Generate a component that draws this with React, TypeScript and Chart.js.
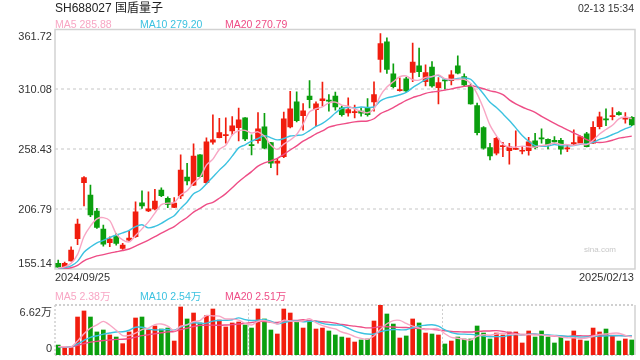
import React, { useEffect, useRef, useState } from "react";
import { Chart, registerables } from "chart.js";

Chart.register(...registerables);

// ---------- data ----------
const dates = [
  "2024/09/25", "2024/09/26", "2024/09/27", "2024/09/30",
  "2024/10/08", "2024/10/09", "2024/10/10", "2024/10/11", "2024/10/14", "2024/10/15", "2024/10/16", "2024/10/17", "2024/10/18",
  "2024/10/21", "2024/10/22", "2024/10/23", "2024/10/24", "2024/10/25", "2024/10/28", "2024/10/29", "2024/10/30", "2024/10/31",
  "2024/11/01", "2024/11/04", "2024/11/05", "2024/11/06", "2024/11/07", "2024/11/08", "2024/11/11", "2024/11/12", "2024/11/13",
  "2024/11/14", "2024/11/15", "2024/11/18", "2024/11/19", "2024/11/20", "2024/11/21", "2024/11/22", "2024/11/25", "2024/11/26",
  "2024/11/27", "2024/11/28", "2024/11/29",
  "2024/12/02", "2024/12/03", "2024/12/04", "2024/12/05", "2024/12/06", "2024/12/09", "2024/12/10", "2024/12/11", "2024/12/12",
  "2024/12/13", "2024/12/16", "2024/12/17", "2024/12/18", "2024/12/19", "2024/12/20", "2024/12/23", "2024/12/24", "2024/12/25",
  "2024/12/26", "2024/12/27", "2024/12/30", "2024/12/31",
  "2025/01/02", "2025/01/03", "2025/01/06", "2025/01/07", "2025/01/08", "2025/01/09", "2025/01/10", "2025/01/13", "2025/01/14",
  "2025/01/15", "2025/01/16", "2025/01/17", "2025/01/20", "2025/01/21", "2025/01/22", "2025/01/23", "2025/01/24", "2025/01/27",
  "2025/02/05", "2025/02/06", "2025/02/07", "2025/02/10", "2025/02/11", "2025/02/12", "2025/02/13",
];

const open = [
  159.97, 157.03, 162.21, 181.21, 229.58, 218.96, 205.14, 189.59, 177.76, 183.81,
  172.92, 180.09, 182.94, 212.31, 205.14, 206.87, 223.28, 216.11, 208.16, 218.09,
  234.51, 227.34, 253.51, 229.58, 264.48, 268.45, 270.18, 274.24, 277.09, 285.46,
  262.14, 265.86, 277.69, 264.13, 246.34, 252.04, 277.69, 299.28, 287.45, 304.21,
  292.63, 300.41, 300.41, 304.21, 294.1, 289.78, 290.04, 291.25, 294.1, 299.28,
  335.82, 351.1, 323.47, 309.04, 319.15, 324.76, 330.38, 316.82, 329.25, 311.63,
  318.28, 317.68, 330.38, 321.13, 313.36, 296.09, 277.09, 259.81, 254.97, 260.68,
  257.22, 258.26, 256.7, 257.22, 265.6, 267.93, 267.07, 266.2, 266.2, 258.69,
  263.01, 263.61, 271.64, 263.61, 277.95, 284.34, 286.59, 290.04, 284.34, 286.07,
];

const high = [
  162.82, 161.09, 174.31, 198.23, 234.76, 227.6, 207.47, 193.05, 182.94, 185.88,
  177.24, 187.87, 213.17, 222.67, 221.81, 223.88, 225.26, 217.49, 216.8, 253.51,
  246.34, 263.01, 253.8, 268.19, 288.05, 285.2, 285.46, 286.59, 293.84, 285.8,
  270.78, 290.04, 289.52, 264.4, 250.66, 290.39, 308.35, 307.92, 297.81, 317.68,
  299.28, 316.3, 305.59, 307.66, 295.57, 302.74, 296.43, 294.1, 302.13, 316.56,
  358.27, 354.56, 332.1, 320.01, 320.44, 349.98, 345.66, 331.24, 334.09, 320.27,
  318.89, 326.32, 339.01, 323.47, 314.83, 298.16, 277.95, 263.61, 268.79, 264.48,
  263.61, 274.24, 260.68, 268.79, 272.25, 275.96, 267.5, 269.31, 267.93, 262.75,
  275.1, 269.92, 273.11, 282.27, 290.39, 293.24, 294.36, 290.9, 290.04, 286.59,
];

const low = [
  156.51, 156.17, 161.8, 176.03, 209.46, 200.22, 190.2, 174.91, 174.31, 175.77,
  172.06, 179.23, 182.42, 207.47, 204.53, 206.0, 217.49, 207.99, 207.99, 215.76,
  227.6, 227.0, 234.25, 228.46, 262.75, 268.2, 263.61, 270.78, 265.6, 265.86,
  253.51, 263.61, 258.69, 242.54, 236.23, 251.17, 276.83, 282.01, 274.84, 294.1,
  278.29, 295.57, 291.25, 292.11, 286.93, 286.93, 285.46, 286.93, 286.93, 291.25,
  324.93, 323.73, 311.37, 308.52, 307.92, 316.82, 321.13, 313.1, 311.98, 297.56,
  310.25, 313.97, 323.47, 313.1, 297.3, 270.78, 258.43, 249.19, 253.51, 252.04,
  245.47, 258.08, 254.37, 253.25, 258.69, 263.61, 258.69, 263.61, 254.11, 256.36,
  261.54, 263.4, 260.4, 263.4, 275.96, 278.81, 283.74, 287.79, 280.89, 278.81,
];

const close = [
  156.77, 159.97, 171.45, 193.91, 233.9, 201.68, 191.06, 176.64, 180.96, 177.24,
  175.77, 181.82, 204.53, 209.46, 207.13, 213.78, 218.35, 210.93, 212.05, 240.55,
  231.05, 252.64, 234.76, 264.73, 266.46, 272.77, 271.04, 278.55, 283.74, 267.33,
  261.54, 275.96, 259.29, 246.34, 248.32, 284.6, 293.24, 283.13, 291.51, 301.27,
  297.56, 301.87, 299.89, 294.96, 288.31, 292.63, 290.65, 289.52, 288.31, 305.59,
  349.64, 327.18, 312.5, 309.91, 308.78, 333.57, 325.45, 324.59, 313.1, 315.95,
  317.42, 322.6, 324.07, 313.97, 297.56, 272.77, 259.29, 252.64, 267.93, 261.28,
  260.42, 258.95, 257.22, 264.73, 259.81, 267.33, 262.4, 264.73, 258.43, 259.29,
  264.13, 269.31, 260.68, 277.43, 286.33, 283.74, 287.45, 288.31, 285.2, 279.42,
];

// volume in 万 (10k shares)
const volume = [
  1.32, 0.97, 0.97, 5.03, 5.83, 5.03, 3.05, 3.31, 2.65, 2.38,
  1.5, 3.05, 4.9, 5.03, 3.31, 3.84, 3.44, 3.57, 1.85, 6.36,
  4.77, 5.56, 4.24, 5.21, 6.09, 4.63, 3.71, 4.24, 4.37, 3.97,
  3.57, 6.09, 4.77, 3.31, 2.78, 6.09, 5.56, 4.41, 3.57, 4.41,
  3.44, 3.57, 3.18, 2.65, 2.38, 2.25, 1.72, 1.99, 2.12, 4.5,
  6.62, 5.43, 4.1, 2.25, 2.52, 4.77, 4.24, 2.91, 2.78, 2.65,
  1.46, 1.85, 2.38, 2.12, 2.12, 3.84, 2.91, 2.12, 2.91, 2.65,
  3.05, 3.05, 1.59, 3.18, 2.38, 3.18, 2.38, 1.59, 2.38, 1.85,
  3.18, 1.99, 1.85, 3.57, 3.05, 3.44, 2.52, 1.85, 2.12, 1.99,
];

// sessions before the visible window (only used to seed the moving averages)
const priorCloses = [
  153.2, 154.0, 153.6, 154.8, 155.3, 154.1, 153.5, 154.6, 155.0, 154.2,
  155.8, 156.1, 154.9, 155.4, 156.0, 155.2, 156.3, 155.7, 156.5,
];
const priorVolumes = [
  1.05, 1.12, 0.98, 1.15, 1.08, 1.02, 1.2, 1.1, 0.95, 1.06,
  1.14, 1.01, 1.09, 1.17, 1.03, 0.99, 1.11, 1.07, 1.04,
];

const maPeriods = [5, 10, 20];
const priceTicks = [155.14, 206.79, 258.43, 310.08, 361.72];
const priceTickLabels = ["155.14", "206.79", "258.43", "310.08", "361.72"];
const volumeTicks = [0, 6.62];
const volumeTickLabels = ["0", "6.62万"];
const priceMaLabels = ["MA5 285.88", "MA10 279.20", "MA20 270.79"];
const volumeMaLabels = ["MA5 2.38万", "MA10 2.54万", "MA20 2.51万"];
const titleText = "SH688027 国盾量子";
const timeText = "02-13 15:34";
const watermark = "sina.com";

// ---------- styles ----------
const RED = "#f11d0e";
const GREEN = "#0b9f0e";
const MA_COLORS = ["#f8a6c4", "#3cc2e0", "#ee4d86"];
const FONT = '"Liberation Sans", Arial, "Noto Sans CJK SC", sans-serif';
const LEGEND_X = [55, 140, 225];

function movingAverage(prior: number[], values: number[], n: number) {
  const all = prior.concat(values);
  const off = prior.length;
  return values.map((_, i) => {
    const end = off + i + 1;
    const start = Math.max(0, end - n);
    let s = 0;
    for (let k = start; k < end; k++) s += all[k];
    return s / (end - start);
  });
}

function dotted(ctx: CanvasRenderingContext2D, x1: number, y1: number, x2: number, y2: number, color: string, w: number, dash: number[]) {
  ctx.save();
  ctx.strokeStyle = color;
  ctx.lineWidth = w;
  ctx.setLineDash(dash);
  ctx.beginPath();
  ctx.moveTo(x1, y1);
  ctx.lineTo(x2, y2);
  ctx.stroke();
  ctx.restore();
}

const mainFrame = {
  id: "mainFrame",
  beforeDatasetsDraw(chart: any) {
    const { ctx, chartArea: a, scales } = chart;
    for (let i = 1; i < priceTicks.length - 1; i++) {
      const y = Math.round(scales.y.getPixelForValue(priceTicks[i]));
      dotted(ctx, a.left, y, a.right, y, "#e2e2e2", 2, [3, 3]);
    }
    ctx.save();
    ctx.strokeStyle = "#d2d2d2";
    ctx.lineWidth = 1.5;
    ctx.strokeRect(a.left, a.top, a.right - a.left, a.bottom - a.top);
    ctx.restore();
  },
};

const volFrame = {
  id: "volFrame",
  beforeDatasetsDraw(chart: any) {
    const { ctx, chartArea: a } = chart;
    dotted(ctx, a.left, a.top, a.right, a.top, "#d0d0d0", 2, [2, 2]);
    dotted(ctx, a.left, a.bottom, a.right, a.bottom, "#d0d0d0", 2, [2, 2]);
    const w = a.right - a.left;
    for (const f of [1 / 3, 2 / 3]) {
      const x = Math.round(a.left + w * f) + 0.5;
      dotted(ctx, x, a.top, x, a.bottom, "#cfcfcf", 1, [2, 2]);
    }
    dotted(ctx, a.left, a.top, a.left, a.bottom, "#d0d0d0", 1.5, [2, 2]);
    dotted(ctx, a.right, a.top, a.right, a.bottom, "#d2d2d2", 1.5, []);
  },
};

type TxtProps = { x: number; y: number; text: string; size: number; color: string; align?: "left" | "right" };
function Txt({ x, y, text, size, color, align = "left" }: TxtProps) {
  return (
    <div
      style={{
        position: "absolute",
        left: x,
        top: y,
        transform: `translate(${align === "right" ? "-100%" : "0"}, -50%)`,
        fontSize: size,
        lineHeight: `${size + 2}px`,
        color,
        whiteSpace: "nowrap",
      }}
    >
      {text}
    </div>
  );
}

export default function App() {
  const mainRef = useRef<HTMLCanvasElement>(null);
  const volRef = useRef<HTMLCanvasElement>(null);
  const [pos, setPos] = useState<{ main: number[]; vol: number[] }>({ main: [], vol: [] });

  useEffect(() => {
    const colors = close.map((c, i) => (c >= open[i] ? RED : GREEN));
    const bodies = close.map((c, i) => [Math.min(open[i], c), Math.max(open[i], c)]);
    const wicks = close.map((_, i) => [low[i], high[i]]);
    const priceMa = maPeriods.map((n) => movingAverage(priorCloses, close, n));
    const volMa = maPeriods.map((n) => movingAverage(priorVolumes, volume, n));

    const lineDs = (data: number[], color: string) => ({
      type: "line" as const,
      data,
      borderColor: color,
      borderWidth: 1.4,
      pointRadius: 0,
      tension: 0.3,
      fill: false,
    });

    const main = new Chart(mainRef.current!, {
      type: "bar",
      data: {
        labels: dates,
        datasets: [
          ...priceMa.map((d, k) => lineDs(d, MA_COLORS[k])),
          {
            type: "bar",
            data: bodies as any,
            backgroundColor: colors,
            borderWidth: 0,
            barThickness: 5,
            grouped: false,
            minBarLength: 1,
          } as any,
          {
            type: "bar",
            data: wicks as any,
            backgroundColor: colors,
            borderWidth: 0,
            barThickness: 1,
            grouped: false,
          } as any,
        ],
      },
      options: {
        animation: false,
        responsive: false,
        maintainAspectRatio: false,
        layout: { padding: { left: 55, right: 5, top: 29.5, bottom: 91 } },
        plugins: { legend: { display: false }, tooltip: { enabled: false } },
        scales: {
          x: { display: false, offset: true },
          y: { display: false, min: priceTicks[0], max: priceTicks[priceTicks.length - 1] },
        },
      },
      plugins: [mainFrame],
    });

    const vol = new Chart(volRef.current!, {
      type: "bar",
      data: {
        labels: dates,
        datasets: [
          ...volMa.map((d, k) => lineDs(d, MA_COLORS[k])),
          {
            type: "bar",
            data: volume,
            backgroundColor: colors,
            borderWidth: 0,
            barThickness: 4,
            grouped: false,
          } as any,
        ],
      },
      options: {
        animation: false,
        responsive: false,
        maintainAspectRatio: false,
        layout: { padding: { left: 55, right: 5, top: 305, bottom: 5 } },
        plugins: { legend: { display: false }, tooltip: { enabled: false } },
        scales: {
          x: { display: false, offset: true },
          y: { display: false, min: volumeTicks[0], max: volumeTicks[1] },
        },
      },
      plugins: [volFrame],
    });

    setPos({
      main: priceTicks.map((v) => main.scales.y.getPixelForValue(v)),
      vol: volumeTicks.map((v) => vol.scales.y.getPixelForValue(v)),
    });

    return () => {
      main.destroy();
      vol.destroy();
    };
  }, []);

  const nP = priceTicks.length;
  return (
    <div
      style={{
        position: "fixed",
        left: 0,
        top: 0,
        width: 640,
        height: 360,
        background: "#fff",
        overflow: "hidden",
        fontFamily: FONT,
      }}
    >
      <canvas ref={mainRef} width={640} height={360} style={{ position: "absolute", left: 0, top: 0 }} />
      <canvas ref={volRef} width={640} height={360} style={{ position: "absolute", left: 0, top: 0 }} />

      <Txt x={55} y={8} text={titleText} size={12} color="#222" />
      <Txt x={634} y={8} text={timeText} size={10.5} color="#333" align="right" />
      {priceMaLabels.map((t, k) => (
        <Txt key={"pm" + k} x={LEGEND_X[k]} y={24} text={t} size={10.5} color={MA_COLORS[k]} />
      ))}
      {pos.main.map((y, i) => (
        <Txt
          key={"pt" + i}
          x={52}
          y={i === 0 ? y - 6 : i === nP - 1 ? y + 6 : y}
          text={priceTickLabels[i]}
          size={11}
          color="#333"
          align="right"
        />
      ))}
      <Txt x={55} y={277} text={dates[0]} size={11} color="#333" />
      <Txt x={634} y={277} text={dates[dates.length - 1]} size={11} color="#333" align="right" />
      <Txt x={584} y={250} text={watermark} size={8} color="#c8c8c8" />

      {volumeMaLabels.map((t, k) => (
        <Txt key={"vm" + k} x={LEGEND_X[k]} y={295.5} text={t} size={10.5} color={MA_COLORS[k]} />
      ))}
      {pos.vol.map((y, i) => (
        <Txt
          key={"vt" + i}
          x={52}
          y={i === 0 ? y - 7 : y + 6.5}
          text={volumeTickLabels[i]}
          size={11}
          color="#333"
          align="right"
        />
      ))}
    </div>
  );
}
